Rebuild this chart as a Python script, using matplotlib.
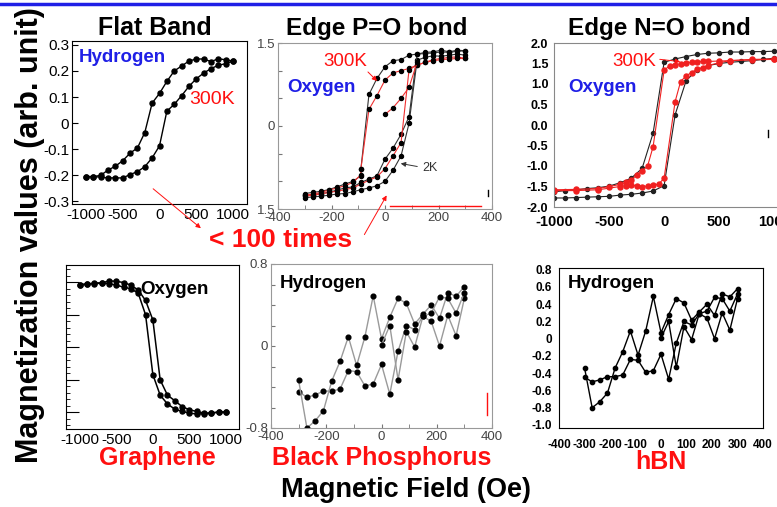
import matplotlib
matplotlib.use("Agg")
import matplotlib.pyplot as plt
from matplotlib.patches import FancyArrowPatch
from matplotlib.lines import Line2D

W, H = 777, 507
plt.rcParams['font.family'] = ['Liberation Sans', 'DejaVu Sans']
plt.rcParams['axes.unicode_minus'] = False

RED = "#ff1010"
BLUE = "#1f1fe6"

# ---- Flat Band (hydrogen) ----
fb_x = [-1000, -900, -800, -700, -600, -500, -400, -300, -200, -100, 0,
        100, 200, 300, 400, 500, 600, 700, 800, 900, 1000]
fb_left_y = [-0.205, -0.205, -0.20, -0.18, -0.165, -0.144, -0.115, -0.095, -0.036, 0.077, 0.114,
             0.16, 0.20, 0.219, 0.238, 0.246, 0.246, 0.236, 0.247, 0.243, 0.238]
fb_right_y = [-0.205, -0.205, -0.207, -0.21, -0.21, -0.21, -0.197, -0.186, -0.167, -0.133, -0.087,
              0.046, 0.072, 0.105, 0.141, 0.17, 0.192, 0.209, 0.222, 0.228, 0.238]

# ---- Edge P=O bond (oxygen) ----
po_dn_x = [300, 270, 240, 210, 180, 150, 120, 90, 60, 30, 0, -30, -60, -90, -90,
           -120, -150, -180, -210, -240, -270, -300]
po_blk_dn_y = [1.36, 1.37, 1.34, 1.37, 1.34, 1.33, 1.30, 1.28, 1.20, 1.18, 1.07, 0.86, 0.57, -0.77, -0.90,
               -1.00, -1.05, -1.10, -1.15, -1.18, -1.20, -1.22]
po_red_dn_y = [1.22, 1.25, 1.24, 1.22, 1.20, 1.15, 1.10, 1.04, 1.00, 0.96, 0.83, 0.55, 0.30, -0.77, -0.88,
               -1.02, -1.08, -1.12, -1.16, -1.20, -1.23, -1.25]
po_up_x = [-300, -270, -240, -210, -180, -150, -120, -90, -60, -30, 0,
           30, 60, 90, 120, 150, 180, 210, 240, 270, 300]
po_blk_up_y = [-1.30, -1.28, -1.27, -1.25, -1.23, -1.22, -1.19, -1.15, -1.12, -1.08, -1.00,
               -0.80, -0.54, 0.05, 1.19, 1.24, 1.27, 1.26, 1.28, 1.30, 1.28]
po_blk2_up_y = [-1.25, -1.24, -1.22, -1.20, -1.16, -1.12, -1.10, -1.02, -0.96, -0.90, -0.60,
                -0.40, -0.15, 0.17, 1.30, 1.31, 1.32, 1.34, 1.33, 1.35, 1.36]
po_red_up_y = [-1.27, -1.25, -1.23, -1.20, -1.18, -1.15, -1.12, -1.05, -0.98, -0.92, -0.77,
               -0.54, -0.30, 1.02, 1.10, 1.15, 1.18, 1.20, 1.21, 1.22, 1.22]
po_virgin_x = [0, 30, 60, 90, 120]
po_virgin_y = [0.21, 0.33, 0.50, 0.70, 1.15]

# ---- Edge N=O bond (oxygen) ----
no_dn_x = [1000, 900, 800, 700, 600, 500, 400, 300, 200, 100, 0,
           -100, -200, -300, -400, -500, -600, -700, -800, -900, -1000]
no_blk_dn_y = [1.80, 1.79, 1.79, 1.78, 1.78, 1.76, 1.75, 1.72, 1.67, 1.61, 1.53,
               -0.20, -1.06, -1.30, -1.41, -1.49, -1.53, -1.55, -1.58, -1.60, -1.63]
no_up_x = [-1000, -900, -800, -700, -600, -500, -400, -300, -200, -100, 0,
           100, 200, 300, 400, 500, 600, 700, 800, 900, 1000]
no_blk_up_y = [-1.78, -1.78, -1.77, -1.76, -1.75, -1.74, -1.71, -1.69, -1.66, -1.61, -1.48,
               0.25, 1.08, 1.35, 1.45, 1.50, 1.53, 1.55, 1.57, 1.60, 1.63]
no_red_dn_x = [1000, 800, 600, 500, 400, 350, 300, 250, 200, 150, 100, 50, 0,
               -100, -150, -200, -250, -300, -350, -400, -500, -600, -800, -1000]
no_red_dn_y = [1.60, 1.59, 1.57, 1.56, 1.55, 1.55, 1.54, 1.53, 1.52, 1.50, 1.46, 1.45, 1.33,
               -0.53, -1.00, -1.12, -1.22, -1.35, -1.40, -1.45, -1.50, -1.55, -1.57, -1.58]
no_red_up_x = [-1000, -800, -600, -400, -350, -300, -250, -200, -150, -100, -50, 0,
               100, 150, 200, 250, 300, 350, 400, 500, 600, 800, 1000]
no_red_up_y = [-1.60, -1.60, -1.58, -1.50, -1.48, -1.47, -1.48, -1.50, -1.49, -1.47, -1.44, -1.30,
               0.57, 1.06, 1.20, 1.28, 1.36, 1.40, 1.45, 1.52, 1.57, 1.60, 1.61]

# ---- Graphene (oxygen) ----
gr_x = fb_x
gr_right_y = [0.964, 0.97, 0.99, 0.99, 1.02, 1.015, 0.995, 0.955, 0.88, 0.72, 0.42,
              -0.50, -0.735, -0.82, -0.91, -0.96, -0.985, -1.01, -1.01, -0.995, -0.995]
gr_left_y = [0.964, 0.97, 0.98, 0.985, 0.98, 0.955, 0.925, 0.90, 0.83, 0.50, -0.42,
             -0.735, -0.87, -0.95, -0.985, -1.01, -1.025, -1.02, -1.01, -0.995, -0.995]

# ---- Black phosphorus / hBN (hydrogen) ----
h_x = [-300, -270, -240, -210, -180, -150, -120, -90, -60, -30, 0,
       30, 60, 90, 120, 150, 180, 210, 240, 270, 300]
h_a_y = [-0.446, -0.50, -0.477, -0.44, -0.44, -0.42, -0.24, -0.25, -0.39, -0.37, -0.18,
         -0.47, -0.05, 0.20, 0.16, 0.29, 0.24, 0.00, 0.30, 0.10, 0.465]
h_b_y = [-0.335, -0.80, -0.73, -0.63, -0.34, -0.15, 0.09, -0.19, 0.09, 0.49, 0.07,
         0.28, 0.465, 0.415, 0.215, 0.31, 0.40, 0.27, 0.52, 0.485, 0.58]
h_c_x = [0, 30, 60, 90, 120, 150, 180, 210, 240, 270, 300]
h_c_y = [0.01, 0.20, -0.33, 0.14, -0.01, 0.29, 0.32, 0.48, 0.465, 0.32, 0.52]

fig = plt.figure(figsize=(W / 100, H / 100), dpi=100)


def box(l, t, r, b):
    return fig.add_axes([l / W, 1 - b / H, (r - l) / W, (b - t) / H])


def ftext(x, y, s, **kw):
    fig.text(x / W, 1 - y / H, s, **kw)


def farrow(x0, y0, x1, y1, color):
    fig.add_artist(FancyArrowPatch((x0 / W, 1 - y0 / H), (x1 / W, 1 - y1 / H),
                                   transform=fig.transFigure, arrowstyle='-|>',
                                   mutation_scale=7, color=color, lw=0.7))


def fline(xs, ys, color, lw=1.0):
    fig.add_artist(Line2D([x / W for x in xs], [1 - y / H for y in ys],
                          transform=fig.transFigure, color=color, lw=lw))


# Flat band
ax1 = box(72, 41, 247, 204)
ax1.plot(fb_x, fb_left_y, 'o-', color='black', ms=3.6, lw=1)
ax1.plot(fb_x, fb_right_y, 'o-', color='black', ms=3.6, lw=1)
ax1.set_xlim(-1190, 1190)
ax1.set_ylim(-0.31, 0.315)
ax1.set_xticks([-1000, -500, 0, 500, 1000], ['-1000', '-500', '0', '500', '1000'])
ax1.set_yticks([-0.3, -0.2, -0.1, 0, 0.1, 0.2, 0.3],
               ['-0.3', '-0.2', '-0.1', '0', '0.1', '0.2', '0.3'])
ax1.tick_params(direction='in', length=4, labelsize=11, pad=2)
ax1.tick_params(axis='x', length=0, pad=3)

# Edge P=O
ax2 = box(278, 43, 492, 209)
mk = dict(mfc='black', mec='black', ms=2.9, lw=0.8)
ax2.plot(po_dn_x, po_blk_dn_y, 'o-', color='#333333', **mk)
ax2.plot(po_up_x, po_blk_up_y, 'o-', color='#333333', **mk)
ax2.plot(po_up_x, po_blk2_up_y, 'o-', color='#333333', **mk)
ax2.plot(po_dn_x, po_red_dn_y, 'o-', color='#f03030', **mk)
ax2.plot(po_up_x, po_red_up_y, 'o-', color='#f03030', **mk)
ax2.plot(po_virgin_x, po_virgin_y, 'o-', color='#f03030', **mk)
ax2.set_xlim(-400, 400)
ax2.set_ylim(-1.5, 1.5)
ax2.set_xticks([-400, -200, 0, 200, 400], ['-400', '-200', '0', '200', '400'])
ax2.set_xticks([-300, -100, 100, 300], minor=True)
ax2.set_yticks([-1.5, -1, -0.5, 0, 0.5, 1, 1.5], ['1.5', '', '', '0', '', '', '1.5'])
ax2.tick_params(which='both', direction='in', length=3, color='#777777',
                labelsize=9.5, labelcolor='#444444', pad=2)
for s in ax2.spines.values():
    s.set_color('#999999')
    s.set_linewidth(0.8)

# Edge N=O
ax3 = box(554, 43, 777.5, 207)
ax3.plot(no_dn_x, no_blk_dn_y, 'o-', color='#222222', ms=2.9, lw=0.8)
ax3.plot(no_up_x, no_blk_up_y, 'o-', color='#222222', ms=2.9, lw=0.8)
ax3.plot(no_red_dn_x, no_red_dn_y, 'o-', color='#f02020', ms=3.6, lw=0.8)
ax3.plot(no_red_up_x, no_red_up_y, 'o-', color='#f02020', ms=3.6, lw=0.8)
ax3.set_xlim(-1000, 1030)
ax3.set_ylim(-2, 2)
ax3.set_xticks([-1000, -500, 0, 500, 1000], ['-1000', '-500', '0', '500', '1000'])
ax3.set_yticks([-2, -1.5, -1, -0.5, 0, 0.5, 1, 1.5, 2],
               ['-2.0', '-1.5', '-1.0', '-0.5', '0.0', '0.5', '1.0', '1.5', '2.0'])
ax3.tick_params(length=0)
ax3.tick_params(axis='y', labelsize=9, pad=4)
ax3.tick_params(axis='x', labelsize=10.5, pad=6)
for lab in ax3.get_xticklabels() + ax3.get_yticklabels():
    lab.set_fontweight('bold')
for s in ax3.spines.values():
    s.set_color('#888888')

# Graphene
ax4 = box(66, 265, 239, 429)
ax4.plot(gr_x, gr_right_y, 'o-', color='black', ms=3.6, lw=1.1)
ax4.plot(gr_x, gr_left_y, 'o-', color='black', ms=3.6, lw=1.1)
ax4.set_xlim(-1190, 1180)
ax4.set_ylim(-1.255, 1.265)
ax4.set_xticks([-1000, -500, 0, 500, 1000], ['-1000', '-500', '0', '500', '1000'])
ax4.set_yticks([-1, -0.5, 0, 0.5, 1], [])
ax4.set_yticks([v / 10 for v in range(-12, 13)], minor=True)
ax4.tick_params(axis='y', which='major', direction='in', length=9)
ax4.tick_params(axis='y', which='minor', direction='in', length=3)
ax4.tick_params(axis='x', length=0, labelsize=11, pad=3)

# Black phosphorus
ax5 = box(271, 264, 492, 428)
mk5 = dict(mfc='black', mec='black', ms=3.4, lw=1)
ax5.plot(h_x, h_a_y, 'o-', color='#9a9a9a', **mk5)
ax5.plot(h_x, h_b_y, 'o-', color='#9a9a9a', **mk5)
ax5.plot(h_c_x, h_c_y, 'o-', color='#9a9a9a', **mk5)
ax5.set_xlim(-400, 400)
ax5.set_ylim(-0.8, 0.8)
ax5.set_xticks([-400, -200, 0, 200, 400], ['-400', '-200', '0', '200', '400'])
ax5.set_xticks([-300, -100, 100, 300], minor=True)
ax5.set_yticks([-0.8, -0.6, -0.4, -0.2, 0, 0.2, 0.4, 0.6, 0.8],
               ['-0.8', '', '', '', '0', '', '', '', '0.8'])
ax5.tick_params(which='both', direction='in', length=3, color='#777777',
                labelsize=9.5, labelcolor='#444444', pad=2)
for s in ax5.spines.values():
    s.set_color('#999999')

# hBN
ax6 = box(559, 268, 763, 428)
ax6.plot(h_x, h_a_y, 'o-', color='black', ms=3.1, lw=1)
ax6.plot(h_x, h_b_y, 'o-', color='black', ms=3.1, lw=1)
ax6.plot(h_c_x, h_c_y, 'o-', color='black', ms=3.1, lw=1)
ax6.set_xlim(-400, 400)
ax6.set_ylim(-1.035, 0.82)
ax6.set_xticks(range(-400, 401, 100), [str(v) for v in range(-400, 401, 100)])
ax6.set_yticks([-1.0, -0.8, -0.6, -0.4, -0.2, 0, 0.2, 0.4, 0.6, 0.8],
               ['-1.0', '-0.8', '-0.6', '-0.4', '-0.2', '0', '0.2', '0.4', '0.6', '0.8'])
ax6.tick_params(length=0, labelsize=8.5)
ax6.tick_params(axis='y', pad=5)
ax6.tick_params(axis='x', pad=8)
for lab in ax6.get_xticklabels() + ax6.get_yticklabels():
    lab.set_fontweight('bold')

# titles and labels
ftext(155, 28, "Flat Band", fontsize=18, fontweight='bold', ha='center', va='center')
ftext(377, 29, "Edge P=O bond", fontsize=17.5, fontweight='bold', ha='center', va='center')
ftext(659, 29, "Edge N=O bond", fontsize=17.5, fontweight='bold', ha='center', va='center')

ftext(79, 57, "Hydrogen", color=BLUE, fontsize=13.5, fontweight='bold', va='center')
ftext(189, 99, "300K", color=RED, fontsize=14, va='center')
ftext(287, 87, "Oxygen", color=BLUE, fontsize=13.5, fontweight='bold', va='center')
ftext(323, 62, "300K", color=RED, fontsize=13.5, va='center')
ftext(422, 168, "2K", color='#333333', fontsize=9, va='center')
ftext(568, 87, "Oxygen", color=BLUE, fontsize=13.5, fontweight='bold', va='center')
ftext(612, 62, "300K", color=RED, fontsize=13.5, va='center')

ftext(140, 290, "Oxygen", color='black', fontsize=13.5, fontweight='bold', va='center')
ftext(280, 283, "Hydrogen", color='black', fontsize=13.5, fontweight='bold', va='center')
ftext(568, 283, "Hydrogen", color='black', fontsize=13.5, fontweight='bold', va='center')

ftext(157, 458, "Graphene", color=RED, fontsize=18, fontweight='bold', ha='center', va='center')
ftext(382, 458, "Black Phosphorus", color=RED, fontsize=18, fontweight='bold', ha='center', va='center')
ftext(661, 462, "hBN", color=RED, fontsize=18, fontweight='bold', ha='center', va='center')

ftext(281, 240, "< 100 times", color=RED, fontsize=19, fontweight='bold', ha='center', va='center')
ftext(30, 235, "Magnetization values (arb. unit)", fontsize=22, fontweight='bold',
      rotation=90, ha='center', va='center')
ftext(406, 490, "Magnetic Field (Oe)", fontsize=19.5, fontweight='bold', ha='center', va='center')

# arrows and marks
farrow(151, 187, 203, 230, RED)
farrow(363, 237, 388, 193, RED)
farrow(366, 70, 379, 83, RED)
farrow(420, 167, 398, 163, '#333333')
farrow(657, 59, 683, 62, RED)
fline([0, 777], [4, 4], BLUE, lw=2.5)
fline([390, 481], [206, 206], RED, lw=1)
fline([487, 487], [393, 415], RED, lw=1)
fline([768, 768], [130, 137], 'black', lw=1)
fline([488, 488], [190, 196], 'black', lw=1)

fig.savefig("out.png", dpi=100)
